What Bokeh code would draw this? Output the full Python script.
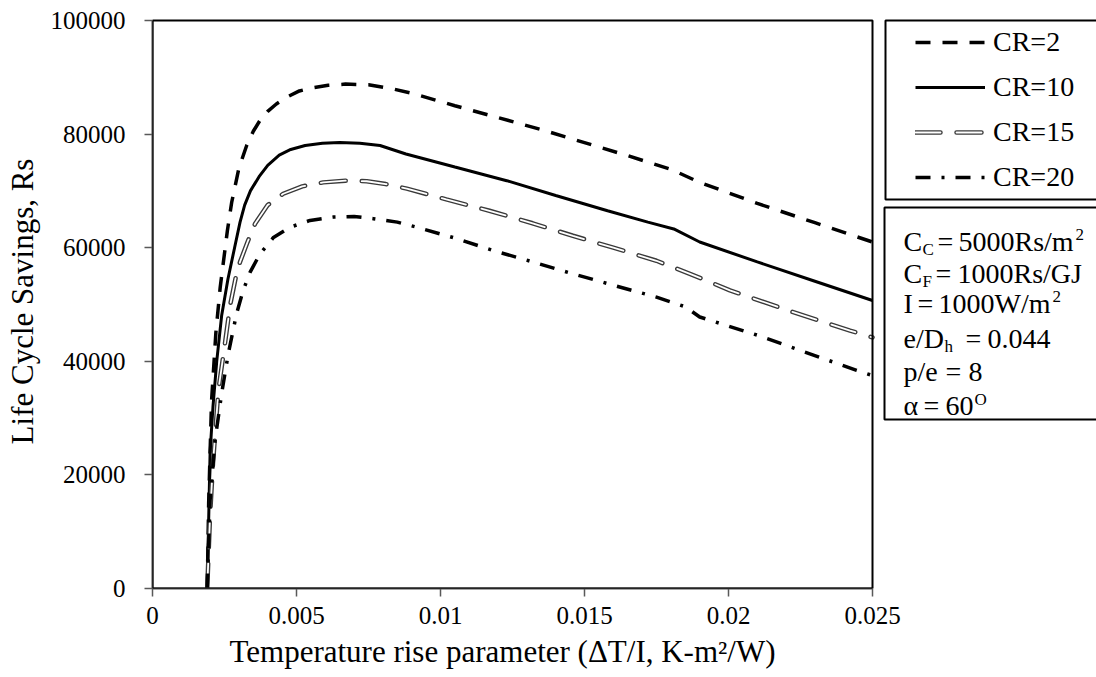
from bokeh.plotting import figure
from bokeh.models import (Legend, LegendItem, Label, BoxAnnotation, FixedTicker, Range1d, Title)
from bokeh.embed import file_html
from bokeh.resources import INLINE

# ---------------- data ----------------
x_cr2 = [0.0019, 0.00195, 0.00205, 0.0022, 0.00235, 0.0026, 0.00275, 0.003, 0.00327, 0.0035,
         0.00373, 0.004, 0.0043, 0.0047, 0.0051, 0.0056, 0.0061, 0.0067, 0.0075, 0.0083,
         0.009, 0.0105, 0.012, 0.0135, 0.015, 0.0165, 0.018, 0.019, 0.021, 0.023, 0.025]
y_cr2 = [0, 15000, 33000, 45000, 53000, 63000, 68000, 74000, 78000, 80500,
         82400, 84000, 85300, 86600, 87600, 88200, 88600, 88800, 88700, 88000,
         87200, 85000, 82900, 80800, 78500, 76200, 73800, 71500, 67800, 64400, 61000]

x_cr10 = [0.0019, 0.00195, 0.002, 0.0021, 0.00223, 0.0024, 0.00262, 0.00285, 0.00304, 0.0032,
          0.0034, 0.0037, 0.004, 0.0044, 0.0048, 0.0053, 0.0059, 0.0065, 0.0072, 0.0079,
          0.0088, 0.0105, 0.0123, 0.014, 0.0158, 0.0172, 0.0181, 0.019, 0.021, 0.023, 0.025]
y_cr10 = [0, 12000, 24000, 32000, 40000, 48000, 54500, 60000, 64500, 67500,
          70000, 72500, 74500, 76300, 77300, 78000, 78400, 78500, 78400, 78000,
          76500, 74200, 71800, 69200, 66500, 64500, 63300, 61000, 57500, 54100, 50700]

x_cr15 = [0.0019, 0.002, 0.0021, 0.00229, 0.00245, 0.0027, 0.00292, 0.00304, 0.0033, 0.00356,
          0.004, 0.00454, 0.0052, 0.00593, 0.0067, 0.00744, 0.0081, 0.00883, 0.0102, 0.0117,
          0.0132, 0.0146, 0.016, 0.0175, 0.01866, 0.02005, 0.0221, 0.02422, 0.025]
y_cr15 = [0, 13000, 22000, 35000, 40700, 50000, 55500, 57500, 61000, 64200,
          67500, 69500, 70800, 71500, 71800, 71700, 71200, 70400, 68500, 66500,
          64300, 62100, 60000, 57700, 55400, 52500, 48900, 45400, 44200]

x_cr20 = [0.0019, 0.002, 0.00217, 0.0024, 0.00263, 0.00292, 0.00315, 0.00339, 0.00373, 0.0042,
          0.00477, 0.00547, 0.00628, 0.007, 0.00767, 0.0085, 0.00918, 0.0105, 0.01183, 0.0132,
          0.0146, 0.016, 0.0175, 0.0185, 0.019, 0.021, 0.02445, 0.025]
y_cr20 = [0, 15500, 26000, 34300, 41300, 48400, 52500, 55700, 58900, 61800,
          63600, 64800, 65400, 65500, 65100, 64500, 63600, 61700, 59500, 57500,
          55400, 53400, 51300, 49600, 47800, 44600, 38400, 37500]

series_labels = ["CR=2", "CR=10", "CR=15", "CR=20"]

x_ticks = [0, 0.005, 0.01, 0.015, 0.02, 0.025]
x_tick_labels = ["0", "0.005", "0.01", "0.015", "0.02", "0.025"]
y_ticks = [0, 20000, 40000, 60000, 80000, 100000]
y_tick_labels = ["0", "20000", "40000", "60000", "80000", "100000"]

x_title = "Temperature rise parameter (\u0394T/I, K-m\u00b2/W)"
y_title = "Life Cycle Savings, Rs"

FONT = "Liberation Serif"

# ---------------- layout (page pixels) ----------------
W, H = 1096, 677
FL, FB = 152, 588          # frame left / bottom
PR, PT = 872, 20           # plot-area right / top
FT = 14                    # frame top (a little above plot-area top)
xmin, xmax = x_ticks[0], x_ticks[-1]
ymin, ymax = y_ticks[0], y_ticks[-1]
x_end = xmin + (xmax - xmin) * (W - FL) / (PR - FL)
y_end = ymin + (ymax - ymin) * (FB - FT) / (FB - PT)

p = figure(width=W, height=H, output_backend="svg", toolbar_location=None,
           x_range=Range1d(xmin, x_end), y_range=Range1d(ymin, y_end),
           min_border_left=FL, min_border_right=0, min_border_top=FT, min_border_bottom=H - FB)
p.grid.visible = False
p.background_fill_color = "white"
p.border_fill_color = "white"
p.outline_line_color = None

for ax in (p.xaxis[0], p.yaxis[0]):
    ax.axis_line_color = "#4a4a4a"
    ax.axis_line_width = 2
    ax.major_tick_line_color = "#595959"
    ax.major_tick_line_width = 1.5
    ax.major_tick_out = 8
    ax.major_tick_in = 0
    ax.minor_tick_line_color = None
    ax.major_label_text_font = FONT
    ax.major_label_text_font_size = "25px"
    ax.major_label_text_color = "black"
    ax.axis_label_text_font = FONT
    ax.axis_label_text_font_size = "31px"
    ax.axis_label_text_font_style = "normal"
    ax.axis_label_text_color = "black"

p.xaxis[0].bounds = (xmin, xmax)
p.yaxis[0].bounds = (ymin, ymax)
p.xaxis[0].ticker = FixedTicker(ticks=x_ticks)
p.xaxis[0].major_label_overrides = dict(zip(x_ticks, x_tick_labels))
p.yaxis[0].ticker = FixedTicker(ticks=y_ticks)
p.yaxis[0].major_label_overrides = dict(zip(y_ticks, y_tick_labels))
p.yaxis[0].axis_label = y_title
p.xaxis[0].major_label_standoff = 10
p.yaxis[0].major_label_standoff = 19
p.yaxis[0].axis_label_standoff = 8

# x-axis title, placed under the plot area (frame extends right for the legend boxes)
p.add_layout(Title(text=x_title, align="left", offset=229 - FL, standoff=10,
                   text_font=FONT, text_font_size="31px", text_font_style="normal",
                   text_color="black"), "below")

# plot-area border (top and right edges)
p.add_layout(BoxAnnotation(left=xmin, right=xmax, bottom=ymin, top=ymax,
                           fill_alpha=0, line_color="black", line_alpha=1, line_width=2))

r2 = p.line(x_cr2, y_cr2, line_color="black", line_width=3.5, line_dash="15 12")
r10 = p.line(x_cr10, y_cr10, line_color="black", line_width=3)
r15o = p.line(x_cr15, y_cr15, line_color="#3a3a3a", line_width=4.5, line_dash="25 16", line_cap="round")
r15i = p.line(x_cr15, y_cr15, line_color="white", line_width=1.8, line_dash="25 16", line_cap="round")
r20 = p.line(x_cr20, y_cr20, line_color="black", line_width=3.5, line_dash="15 11 3 11")

# ---------------- legend ----------------
legend = Legend(items=[
    LegendItem(label=series_labels[0], renderers=[r2]),
    LegendItem(label=series_labels[1], renderers=[r10]),
    LegendItem(label=series_labels[2], renderers=[r15o, r15i]),
    LegendItem(label=series_labels[3], renderers=[r20]),
], location=(915 - FL, FB - 193), margin=0, padding=0, spacing=13,
    glyph_width=70, glyph_height=32, label_height=32, label_standoff=8,
    label_text_font=FONT, label_text_font_size="28px", label_text_color="black",
    border_line_alpha=0, background_fill_alpha=0)
p.add_layout(legend)

def sbox(l, r, t, b):
    p.add_layout(BoxAnnotation(left=l - FL, right=r - FL, top=FB - t, bottom=FB - b,
                               left_units="screen", right_units="screen",
                               top_units="screen", bottom_units="screen",
                               fill_alpha=0, line_color="black", line_alpha=1, line_width=2))

sbox(885, 1110, 20, 199)
sbox(884, 1110, 207, 419)

# ---------------- parameter box text ----------------
def lab(x, y, text, size):
    p.add_layout(Label(x=x - FL, y=FB - y, x_units="screen", y_units="screen", text=text,
                       text_font=FONT, text_font_size=size, text_color="black",
                       text_baseline="alphabetic", text_align="left"))

BIG, SUB, SUP = "28px", "17px", "17px"
X0 = 903
B = [241, 272.5, 303, 338, 371, 405]
# line 1: C_C = 5000Rs/m^2
lab(X0, B[0], "C", BIG)
lab(X0 + 19, B[0] + 8, "C", SUB)
lab(937, B[0], "=", BIG)
lab(958, B[0], "5000Rs/m", BIG)
lab(1075, B[0] - 7, "2", SUP)
# line 2: C_F = 1000Rs/GJ
lab(X0, B[1], "C", BIG)
lab(X0 + 19, B[1] + 8, "F", SUB)
lab(935, B[1], "=", BIG)
lab(957, B[1], "1000Rs/GJ", BIG)
# line 3: I = 1000W/m^2
lab(X0, B[2], "I", BIG)
lab(917, B[2], "=", BIG)
lab(938, B[2], "1000W/m", BIG)
lab(1052, B[2] - 7, "2", SUP)
# line 4: e/D_h = 0.044
lab(X0, B[3], "e/D", BIG)
lab(X0 + 41, B[3] + 8, "h", SUB)
lab(965, B[3], "=", BIG)
lab(987, B[3], "0.044", BIG)
# line 5: p/e = 8
lab(X0, B[4], "p/e", BIG)
lab(945, B[4], "=", BIG)
lab(968, B[4], "8", BIG)
# line 6: alpha = 60^O
lab(X0, B[5], "\u03b1", BIG)
lab(923, B[5], "=", BIG)
lab(945, B[5], "60", BIG)
lab(974, B[5] - 6, "O", SUP)

open("out.html", "w").write(file_html(p, INLINE))
